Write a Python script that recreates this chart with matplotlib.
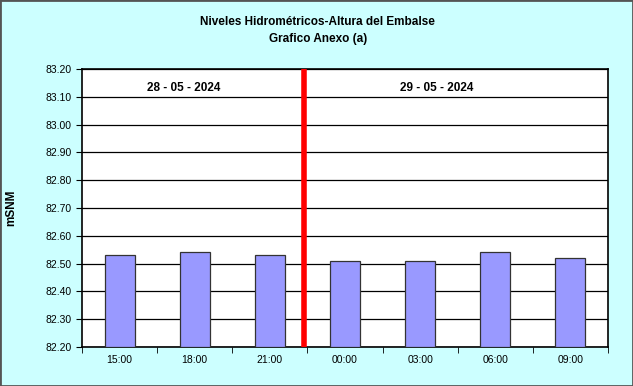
import matplotlib
matplotlib.use("Agg")
import matplotlib.pyplot as plt
from matplotlib.patches import Rectangle

horas = ["15:00", "18:00", "21:00", "00:00", "03:00", "06:00", "09:00"]
niveles = [82.53, 82.54, 82.53, 82.51, 82.51, 82.54, 82.52]
fechas = ["28 - 05 - 2024", "29 - 05 - 2024"]
fecha_x = [0.86, 4.22]
corte_dia = 2.46

plt.rcParams["font.family"] = ["Liberation Sans", "DejaVu Sans"]

fig = plt.figure(figsize=(6.33, 3.86), dpi=100, facecolor="#CCFFFF")
fig.patches.append(Rectangle((0, 0), 1, 1, transform=fig.transFigure, fill=False,
                             edgecolor="#555555", linewidth=2))
ax = fig.add_axes([0.1295, 0.101, 0.831, 0.7202])

x = range(len(horas))
ax.bar(x, [v - 82.2 for v in niveles], bottom=82.2, width=0.4,
       color="#9999FF", edgecolor="#333333", linewidth=0.9, zorder=3)
ax.axvline(corte_dia, color="#FF0000", linewidth=4, zorder=4)

for fx, f in zip(fecha_x, fechas):
    ax.text(fx, 83.13, f, ha="center", va="center", fontsize=8.5, fontweight="bold")

ax.set_xlim(-0.5, len(horas) - 0.5)
ax.set_ylim(82.2, 83.2)
ax.set_yticks([82.2 + 0.1 * i for i in range(11)])
ax.set_yticklabels([f"{82.2 + 0.1 * i:.2f}" for i in range(11)])
ax.set_xticks(list(x))
ax.set_xticklabels(horas)
ax.set_xticks([i + 0.5 for i in range(-1, len(horas))], minor=True)
ax.tick_params(axis="x", which="major", length=0, labelsize=7.5, pad=6)
ax.tick_params(axis="x", which="minor", length=4, direction="out")
ax.tick_params(axis="y", length=4, direction="out", labelsize=7.5)
ax.grid(axis="y", color="black", linewidth=0.9, zorder=0)
for s in ax.spines.values():
    s.set_color("black")
    s.set_linewidth(1.2)

ax.set_ylabel("mSNM", fontsize=8.5, fontweight="bold", labelpad=20)
fig.text(0.502, 0.921, "Niveles Hidrométricos-Altura del Embalse\nGrafico Anexo (a)",
         ha="center", va="center", fontsize=8.5, fontweight="bold", linespacing=1.45)

fig.savefig("out.png", dpi=100, facecolor=fig.get_facecolor())
